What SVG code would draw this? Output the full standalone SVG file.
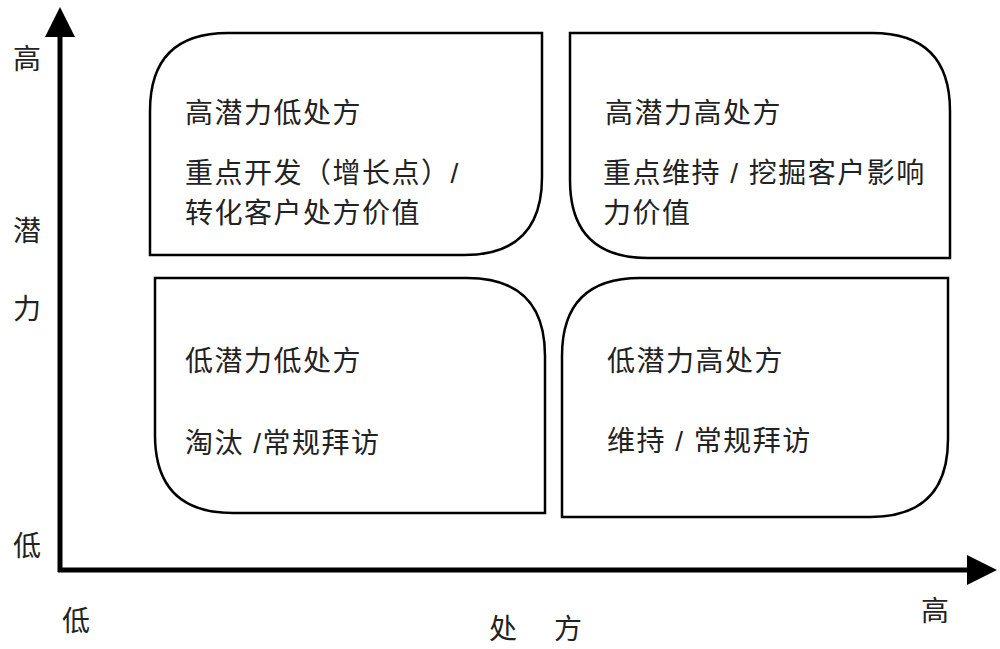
<svg xmlns="http://www.w3.org/2000/svg" width="1000" height="649" viewBox="0 0 1000 649">
<style>
.box{fill:#fff;stroke:#000;stroke-width:2.5}
.t{font-family:"Liberation Sans","Noto Sans CJK SC",sans-serif;font-size:28px;letter-spacing:1.5px;fill:#222}
.ax{stroke:#000;stroke-width:5;fill:none}
</style>
<defs><marker id="ar" markerWidth="6" markerHeight="6" refX="3" refY="3" orient="auto" markerUnits="strokeWidth"><path d="M0,0L6,3L0,6Z" fill="#000"/></marker></defs>
<rect width="1000" height="649" fill="#fff"/>
<g id="connectors">
<line class="ax" x1="60" y1="572" x2="60" y2="22" marker-end="url(#ar)"/>
<line class="ax" x1="58" y1="570" x2="982" y2="570" marker-end="url(#ar)"/>
</g>
<g id="q1"><path class="box" d="M228,33H542V177Q542,255 464,255H150V111Q150,33 228,33Z"/>
<text class="t" x="185" y="123">高潜力低处方</text><text class="t" x="185" y="183">重点开发（增长点）/</text><text class="t" x="185" y="223">转化客户处方价值</text></g>
<g id="q2"><path class="box" d="M570,33H872Q950,33 950,111V258H648Q570,258 570,180Z"/>
<text class="t" x="605" y="123">高潜力高处方</text><text class="t" x="603" y="183">重点维持 / 挖掘客户影响</text><text class="t" x="603" y="223">力价值</text></g>
<g id="q3"><path class="box" d="M155,278H467Q545,278 545,356V513H233Q155,513 155,435Z"/>
<text class="t" x="185" y="371">低潜力低处方</text><text class="t" x="185" y="453">淘汰 /常规拜访</text></g>
<g id="q4"><path class="box" d="M640,278H948V439Q948,517 870,517H562V356Q562,278 640,278Z"/>
<text class="t" x="607" y="371">低潜力高处方</text><text class="t" x="607" y="451">维持 / 常规拜访</text></g>
<g id="labels">
<text class="t" x="13" y="69">高</text><text class="t" x="13" y="241">潜</text><text class="t" x="13" y="319">力</text><text class="t" x="13" y="556">低</text>
<text class="t" x="62" y="631">低</text><text class="t" x="489" y="639">处</text><text class="t" x="554" y="639">方</text><text class="t" x="921" y="621">高</text>
</g>
</svg>
